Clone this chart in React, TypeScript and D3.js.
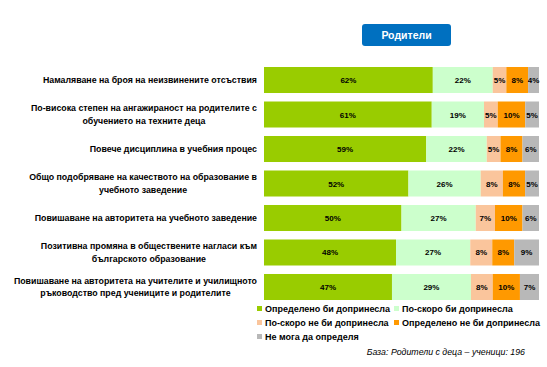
import React from "react";
import * as d3 from "d3";

const categories = [
  ["Намаляване на броя на неизвинените отсъствия"],
  ["По-висока степен на ангажираност на родителите с", "обучението на техните деца"],
  ["Повече дисциплина в учебния процес"],
  ["Общо подобряване на качеството на образование в", "учебното заведение"],
  ["Повишаване на авторитета на учебното заведение"],
  ["Позитивна промяна в обществените нагласи към", "българското образование"],
  ["Повишаване на авторитета на учителите и училищното", "ръководство пред учениците и родителите"],
];

const seriesNames = [
  "Определено би допринесла",
  "По-скоро би допринесла",
  "По-скоро не би допринесла",
  "Определено не би допринесла",
  "Не мога да определя",
];

const definitely = [62, 61, 59, 52, 50, 48, 47];
const rather = [22, 19, 22, 26, 27, 27, 29];
const ratherNot = [5, 5, 5, 8, 7, 8, 8];
const definitelyNot = [8, 10, 8, 8, 10, 8, 10];
const cantSay = [4, 5, 6, 5, 6, 9, 7];

const colors = ["#99cc00", "#ccffcc", "#fac59c", "#ff9900", "#b8b8b8"];

const title = "Родители";
const baseNote = "База: Родители с деца – ученици: 196";

const LABEL_SIZE = 8.8;
const FONT = "'Liberation Sans', Arial, sans-serif";

let ctx: CanvasRenderingContext2D | null = null;
function measure(t: string): number {
  if (!ctx) ctx = document.createElement("canvas").getContext("2d");
  if (!ctx) return t.length * 5;
  ctx.font = `bold ${LABEL_SIZE}px 'Liberation Sans', Arial, sans-serif`;
  return ctx.measureText(t).width;
}

export default function App() {
  const W = 547, H = 367;
  const x0 = 264, x1 = 539;
  const labelRight = 257;
  const series = [definitely, rather, ratherNot, definitelyNot, cantSay];
  const y = d3.scaleBand<number>().domain(d3.range(categories.length)).range([67, 300]).paddingInner(0.246).paddingOuter(0);
  const x = d3.scaleLinear().domain([0, 1]).range([x0, x1]);

  return (
    <svg width={W} height={H} style={{ position: "absolute", left: 0, top: 0 }} fontFamily={FONT}>
      <rect x={362} y={24} width={89} height={22} rx={3} fill="#0070c0" />
      <text x={406.5} y={39} textAnchor="middle" fill="#fff" fontWeight="bold" fontSize={10.5}>{title}</text>
      {categories.map((lines, i) => {
        const total = d3.sum(series, (s) => s[i]);
        let acc = 0;
        const cy = (y(i) as number) + y.bandwidth() / 2;
        const maxW = d3.max(lines, (l) => measure(l)) as number;
        const cx = labelRight - maxW / 2;
        return (
          <g key={i}>
            {lines.map((ln, k) => (
              <text key={k} x={cx} y={cy + 3.2 + (k - (lines.length - 1) / 2) * 12.5} textAnchor="middle"
                fontSize={LABEL_SIZE} fontWeight="bold" fill="#000">{ln}</text>
            ))}
            {series.map((s, j) => {
              const start = acc / total;
              acc += s[i];
              const end = acc / total;
              const xa = x(start), xb = x(end);
              return (
                <g key={j}>
                  <rect x={xa} y={y(i)} width={xb - xa} height={y.bandwidth()} fill={colors[j]} />
                  <text x={(xa + xb) / 2} y={cy + 3} textAnchor="middle" fontSize={8} fontWeight="bold" fill="#000">{s[i]}%</text>
                </g>
              );
            })}
          </g>
        );
      })}
      {seriesNames.map((n, j) => {
        const col = j % 2, row = Math.floor(j / 2);
        const lx = col === 0 ? 257 : 394;
        const ly = 308.5 + row * 14;
        return (
          <g key={j}>
            <rect x={lx} y={ly - 2.5} width={5} height={5} fill={colors[j]} />
            <text x={lx + 8} y={ly + 3.2} fontSize={9} fontWeight="bold" fill="#000">{n}</text>
          </g>
        );
      })}
      <text x={525} y={355} textAnchor="end" fontSize={8.8} fontStyle="italic" fill="#000">{baseNote}</text>
    </svg>
  );
}
